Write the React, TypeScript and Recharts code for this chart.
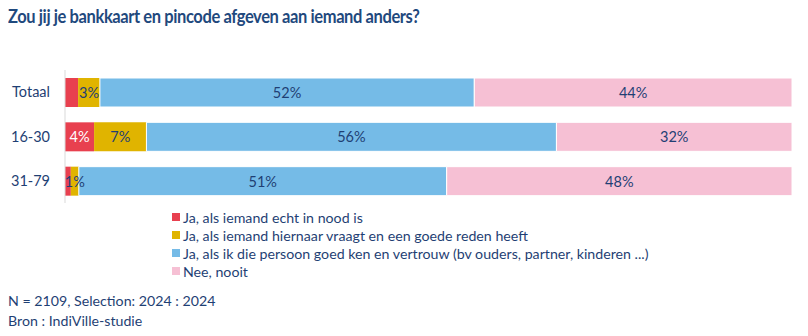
import { BarChart, Bar, XAxis, YAxis, LabelList } from 'recharts'

const groups = ['Totaal', '16-30', '31-79']
const inNood = [1.8, 4.0, 0.8]
const goedeReden = [3.0, 7.2, 1.1]
const vertrouw = [51.5, 56.4, 50.6]
const nooit = [43.7, 32.4, 47.5]

const seriesNames = [
  'Ja, als iemand echt in nood is',
  'Ja, als iemand hiernaar vraagt en een goede reden heeft',
  'Ja, als ik die persoon goed ken en vertrouw (bv ouders, partner, kinderen ...)',
  'Nee, nooit',
]
const colors = ['#E8404F', '#E0B400', '#75BBE7', '#F6C0D4']
const textColor = '#1F3F74'
const font = 'Lato, sans-serif'

const data = groups.map((name, i) => ({
  name,
  inNood: inNood[i],
  goedeReden: goedeReden[i],
  vertrouw: vertrouw[i],
  nooit: nooit[i],
}))

const keys = ['inNood', 'goedeReden', 'vertrouw', 'nooit']

const makeLabel = (minValue: number, fill: string) => (props: any) => {
  const { x, y, width, height, value } = props
  if (value < minValue) return null
  return (
    <text
      x={x + width / 2}
      y={y + height / 2}
      textAnchor="middle"
      dominantBaseline="central"
      fill={fill}
      fontSize={14.5}
      fontFamily={font}
    >
      {Math.round(value)}%
    </text>
  )
}

export default function App() {
  return (
    <div style={{ position: 'absolute', left: 0, top: 0, width: 808, height: 336, background: '#fff' }}>
      <div
        style={{
          position: 'absolute',
          left: 8,
          top: 5,
          fontFamily: font,
          fontWeight: 700,
          fontSize: 16.5,
          color: '#1F497D',
          whiteSpace: 'nowrap',
          letterSpacing: -0.4,
          transform: 'scaleY(1.15)',
          transformOrigin: 'left top',
        }}
      >
        Zou jij je bankkaart en pincode afgeven aan iemand anders?
      </div>
      <BarChart
        width={808}
        height={336}
        data={data}
        layout="vertical"
        margin={{ top: 70, right: 16, bottom: 133, left: 0 }}
      >
        <XAxis type="number" domain={[0, 100]} hide />
        <YAxis
          type="category"
          dataKey="name"
          width={65}
          tickLine={false}
          tickSize={0}
          tickMargin={15}
          axisLine={{ stroke: '#D9D9D9' }}
          tick={{ fill: textColor, fontSize: 14.5, fontFamily: font }}
        />
        {keys.map((k, i) => (
          <Bar
            key={k}
            dataKey={k}
            stackId="a"
            fill={colors[i]}
            barSize={29}
            isAnimationActive={false}
            stroke={i >= 2 ? '#fff' : undefined}
            strokeWidth={i >= 2 ? 1 : 0}
          >
            <LabelList
              dataKey={k}
              content={makeLabel(i === 0 ? 3 : 0.5, i === 0 ? '#fff' : textColor)}
            />
          </Bar>
        ))}
      </BarChart>
      <div
        style={{
          position: 'absolute',
          left: 172,
          top: 208,
          fontFamily: font,
          fontSize: 14.2,
          color: textColor,
        }}
      >
        {seriesNames.map((n, i) => (
          <div key={n} style={{ display: 'flex', alignItems: 'center', height: 18 }}>
            <span style={{ width: 8, height: 8, background: colors[i], marginRight: 3, display: 'inline-block' }} />
            <span>{n}</span>
          </div>
        ))}
      </div>
      <div
        style={{
          position: 'absolute',
          left: 8,
          top: 291,
          fontFamily: font,
          fontSize: 14.2,
          color: textColor,
          lineHeight: '20px',
        }}
      >
        <div>N = 2109, Selection: 2024 : 2024</div>
        <div>Bron : IndiVille-studie</div>
      </div>
    </div>
  )
}
